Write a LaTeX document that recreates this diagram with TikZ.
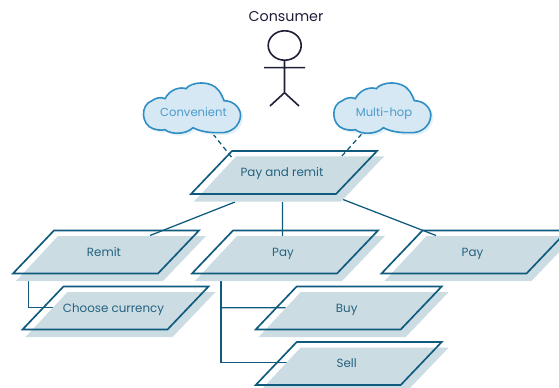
\documentclass[tikz,border=0pt]{standalone}
\usepackage{fontspec}
\setmainfont{Poppins}
\usetikzlibrary{calc}
\pgfdeclarelayer{back}
\pgfsetlayers{back,main}
\definecolor{linec}{HTML}{0F5A7D}
\definecolor{shadec}{HTML}{CBDCE3}
\definecolor{textc}{HTML}{26627F}
\definecolor{cloudf}{HTML}{D6E8F3}
\definecolor{cloudl}{HTML}{2F8FC4}
\definecolor{cloudt}{HTML}{4A9BCB}
\definecolor{clouds}{HTML}{E6F0F7}
\definecolor{actorc}{HTML}{1E1E38}
\tikzset{
  outline/.style={draw=linec,line width=1.25pt,line join=miter},
  shade/.style={fill=shadec},
  boxtext/.style={text=textc,font=\fontsize{8.9}{10}\selectfont,inner sep=0pt,text height=7.6pt,text depth=1.6pt},
  cloudtext/.style={text=cloudt,font=\fontsize{8.7}{10}\selectfont,inner sep=0pt,text height=7.6pt,text depth=1.6pt},
  link/.style={draw=linec,line width=0.95pt},
  dashlink/.style={draw=linec,line width=0.95pt,dash pattern=on 3.6pt off 2.6pt},
  actor/.style={draw=actorc,line width=1.2pt},
}
% name, text centre x, y, text
\newcommand\parabox[4]{%
  \begin{scope}[shift={(#2,#3)}]
    \fill[shade] (-46,-16) -- (102,-16) -- (59,29) -- (-88,29) -- cycle;
    \draw[outline] (-50,-21.5) -- (95,-21.5) -- (54,21.5) -- (-91,21.5) -- cycle;
  \end{scope}
  \node[boxtext] (#1) at (#2,#3) {#4};}
\newcommand\cloudpath{(10,46) .. controls (-2,42) and (-3,22) .. (9,18)
  .. controls (13,15) and (18,14) .. (22,16)
  .. controls (27,6) and (38,4) .. (43,6)
  .. controls (48,-1) and (68,-3) .. (76,8)
  .. controls (78,11) and (80,15) .. (81,18)
  .. controls (92,18) and (98,27) .. (97.5,33)
  .. controls (97,43) and (88,51) .. (76,50)
  .. controls (66,50) and (58,49) .. (50,45)
  .. controls (43,52) and (28,52) .. (22,47)
  .. controls (18,48) and (13,47) .. (10,46) -- cycle}
% name, left, top, text centre x, y, text
\newcommand\cloudbox[6]{%
  \begin{scope}[shift={(#2+2.5,#3+2.5)}]
    \fill[clouds] \cloudpath;
  \end{scope}
  \begin{scope}[shift={(#2,#3)}]
    \draw[fill=cloudf,draw=cloudl,line width=1.2pt] \cloudpath;
  \end{scope}
  \node[cloudtext] (#1) at (#4,#5) {#6};}
\begin{document}
\begin{tikzpicture}[x=0.75pt,y=-0.75pt]
\path[use as bounding box] (0,0) rectangle (559,388);
\clip (0,0) rectangle (559,388);
% actor
\node[text=actorc,font=\fontsize{10.7}{12}\selectfont,inner sep=0pt,text height=8.6pt,text depth=2pt] (consumer) at (286,17.6) {Consumer};
\draw[actor] (284.7,45.5) ellipse [x radius=16.5,y radius=14.7];
\coordinate (neck) at (284.5,60.2);
\coordinate (hip) at (284.5,92.7);
\coordinate (armL) at (264,67.7);
\coordinate (armR) at (305,67.7);
\coordinate (footL) at (270,106);
\coordinate (footR) at (299,106);
\draw[actor] (neck) -- (hip) (armL) -- (armR) (footL) -- (hip) -- (footR);
% clouds
\cloudbox{conv}{143}{82.7}{193.5}{113}{Convenient}
\cloudbox{multi}{333.3}{82.7}{384}{113}{Multi-hop}
% boxes
\parabox{pr}{282}{172.5}{Pay and remit}
\parabox{rm}{104}{252}{Remit}
\parabox{pay}{283}{252}{Pay}
\parabox{pay2}{472.5}{252}{Pay}
\parabox{cc}{113.5}{308}{Choose currency}
\parabox{buy}{346.7}{308}{Buy}
\parabox{sell}{346.7}{363.5}{Sell}
% connectors
\begin{pgfonlayer}{back}
\draw[dashlink] ($(conv)+(19.5,21)$) -- ($(pr)+(-49,-13.5)$);
\draw[dashlink] ($(multi)+(-22.3,21)$) -- ($(pr)+(59,-15.5)$);
\draw[link] ($(pr)+(-47,29.5)$) -- ($(rm)+(46,-16.5)$);
\draw[link] ($(pr)+(0.6,29.5)$) -- ($(pay)+(-0.4,-16)$);
\draw[link] ($(pr)+(61,27)$) -- ($(pay2)+(-36.5,-16.5)$);
\draw[link] ($(rm)+(-75.5,29)$) |- ($(cc)+(-61,-0.7)$);
\draw[link] ($(pay)+(-62,29)$) |- ($(sell)+(-60,-0.8)$);
\draw[link] ($(pay)+(-62,55.7)$) -- ($(buy)+(-61,-0.3)$);
\end{pgfonlayer}
\end{tikzpicture}
\end{document}
